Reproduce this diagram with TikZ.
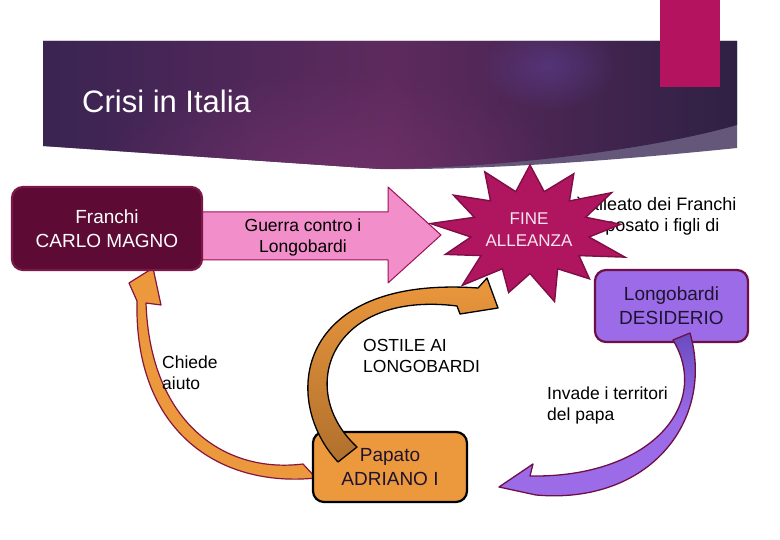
\documentclass[tikz,border=0pt]{standalone}
\usepackage{fontspec}
\setmainfont{Liberation Sans}
\usetikzlibrary{fadings}
\definecolor{bannerL}{HTML}{3A2452}
\definecolor{bannerM}{HTML}{5E2A5E}
\definecolor{bannerR}{HTML}{2F2144}
\definecolor{glowA}{HTML}{7A3570}
\definecolor{glowB}{HTML}{5A3A88}
\definecolor{wedge}{HTML}{65577A}
\definecolor{squareC}{HTML}{B3135F}
\definecolor{pinkF}{HTML}{F28EC9}
\definecolor{pinkL}{HTML}{A0105A}
\definecolor{franchiF}{HTML}{5D0A35}
\definecolor{franchiL}{HTML}{7A1848}
\definecolor{orangeF}{HTML}{EC983D}
\definecolor{orangeD}{HTML}{B0702C}
\definecolor{maroonL}{HTML}{86163F}
\definecolor{purpleF}{HTML}{9C6BE8}
\definecolor{purpleD}{HTML}{6A4BC0}
\definecolor{purpleL}{HTML}{6E0F45}
\definecolor{starF}{HTML}{B01560}
\definecolor{starL}{HTML}{7F0E45}
\definecolor{starT}{HTML}{F6E6F0}
\definecolor{darkT}{HTML}{1E1430}
\tikzfading[name=myglow, inner color=transparent!0, outer color=transparent!100]
\begin{document}
\begin{tikzpicture}[x=1pt,y=-1pt,
  boxnode/.style={align=center, rounded corners=11pt, line width=2.2pt, inner sep=2pt,
    font=\fontsize{19}{24}\selectfont},
  lbl/.style={font=\fontsize{17.5}{21}\selectfont, align=left, anchor=north west, inner sep=0pt},
  blockarrow/.style={line width=1.2pt, line join=round}
]
\useasboundingbox (0,0) rectangle (780,540);
\fill[white] (0,0) rectangle (780,540);

% banner
\fill[wedge] (43,41) -- (737,41) -- (737,148) .. controls (600,162) and (480,170) .. (380,169) -- (43,146) -- cycle;
\begin{scope}
  \clip (43,41) -- (737,41) -- (737,125) .. controls (650,150) and (500,168) .. (380,169) -- (43,146) -- cycle;
  \shade[left color=bannerL, right color=bannerR, middle color=bannerM] (43,41) rectangle (737,172);
  \fill[glowA, path fading=myglow, opacity=.6] (330,178) ellipse [x radius=240, y radius=110];
  \fill[glowB, path fading=myglow, opacity=.7] (548,66) ellipse [x radius=70, y radius=45];
\end{scope}
\fill[squareC] (660,0) rectangle (720,87);
\node[anchor=base west, text=white, font=\fontsize{31}{36}\selectfont, inner sep=0pt] (title) at (82,113) {Crisi in Italia};

% text behind the star
\node[lbl, font=\fontsize{18}{21}\selectfont, text=black] (alleanza) at (493,197)
  {Desiderio è alleato dei Franchi\\infatti hanno sposato i figli di\\re Desiderio};

% pink arrow: Franchi -> Longobardi
\coordinate (pinkTip) at (441,235);
\draw[blockarrow, fill=pinkF, draw=pinkL, line width=1pt] (200,212) -- (388,212) -- (388,187) -- (pinkTip) -- (388,283) -- (388,260) -- (200,260) -- cycle;
\node[font=\fontsize{17.5}{21}\selectfont, align=center, anchor=north, inner sep=0pt] (guerra) at (303,219) {Guerra contro i\\Longobardi};

% orange arrow: Papato -> Franchi (Chiede aiuto)
\draw[blockarrow, fill=orangeF, draw=maroonL]
  (303,464) .. controls (222,474) and (150,420) .. (146,303) -- (161,305) -- (153,268) -- (129,283) -- (137,301)
  .. controls (134,432) and (220,488) .. (316,478) -- cycle;

% boxes
\node[boxnode, fill=franchiF, draw=franchiL, text=white, minimum width=190pt, minimum height=83pt] (franchi) at (107,228.5) {Franchi\\CARLO MAGNO};
\node[boxnode, fill=orangeF, draw=black, text=darkT, minimum width=154pt, minimum height=70pt] (papato) at (390,467) {Papato\\ADRIANO I};

% star
\filldraw[fill=starF, draw=starL, line width=1.4pt, line join=miter]
  plot[samples at={0,...,25}] ({530+96*(0.62+0.38*mod(\x+1,2))*(1+0.07*mod(\x+1,2)*sin(\x*97))*cos(90-\x*360/26)},
                              {232-67*(0.62+0.38*mod(\x+1,2))*(1+0.07*mod(\x+1,2)*sin(\x*97))*sin(90-\x*360/26)}) -- cycle;
\node[font=\fontsize{17}{22}\selectfont, align=center, text=starT, inner sep=0pt] (fine) at (529,230) {FINE\\ALLEANZA};

% orange arrow: Papato hostile to Longobardi
\draw[blockarrow, top color=orangeF, bottom color=orangeD, draw=black, line width=1.3pt]
  (338,462) .. controls (280,400) and (295,275) .. (478,288) -- (487,278) -- (498,308) -- (460,314) -- (457,306)
  .. controls (330,290) and (295,390) .. (357,447) -- cycle;

% Desiderio box
\node[boxnode, fill=purpleF, draw=purpleL, text=darkT, minimum width=153pt, minimum height=72pt] (desiderio) at (671.5,306) {Longobardi\\DESIDERIO};

% purple arrow: Longobardi -> Papato
\draw[blockarrow, top color=purpleD, bottom color=purpleF, middle color=purpleF, draw=purpleL, line width=1.3pt]
  (673,340) .. controls (712,405) and (650,478) .. (530,476) -- (533,464) -- (499,487) -- (536,495)
  .. controls (650,505) and (715,420) .. (690,333) -- cycle;

% labels
\node[lbl] (chiede) at (162,356) {Chiede\\aiuto};
\node[lbl] (ostile) at (363,339) {OSTILE AI\\LONGOBARDI};
\node[lbl] (invade) at (547,387) {Invade i territori\\del papa};
\end{tikzpicture}
\end{document}
